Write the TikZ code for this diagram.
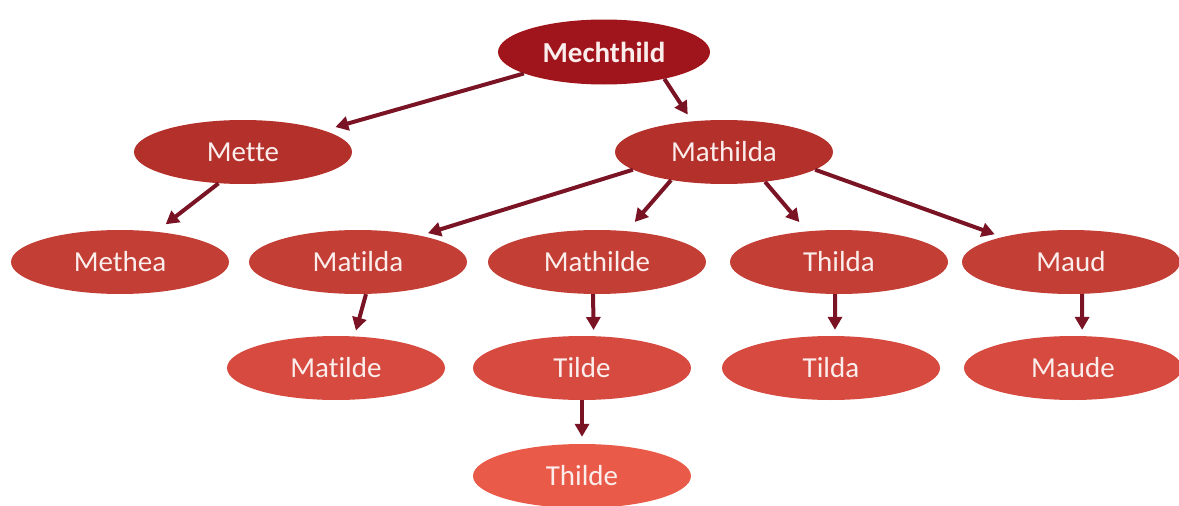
\documentclass[tikz,border=0pt]{standalone}
\usepackage{fontspec}
\setmainfont{Carlito}[Ligatures=NoCommon]
\usetikzlibrary{shapes.geometric,arrows.meta}
\definecolor{cA}{HTML}{A0141C}
\definecolor{cB}{HTML}{B3302B}
\definecolor{cC}{HTML}{C33E35}
\definecolor{cD}{HTML}{D64A3F}
\definecolor{cE}{HTML}{EA5A48}
\definecolor{arr}{HTML}{7A1424}
\definecolor{txt}{HTML}{FBEDEB}
\begin{document}
\begin{tikzpicture}[x=1pt,y=-1pt,
  personbox/.style={ellipse,inner sep=0pt,minimum width=218pt,minimum height=64pt,
    text=txt,font=\fontsize{29}{31}\selectfont},
  lvA/.style={personbox,fill=cA,minimum width=212pt,minimum height=65pt,font=\fontsize{29}{31}\selectfont\bfseries},
  lvB/.style={personbox,fill=cB},
  lvC/.style={personbox,fill=cC},
  lvD/.style={personbox,fill=cD},
  lvE/.style={personbox,fill=cE},
  link/.style={draw=arr,line width=4pt,-{Triangle[length=13pt,width=14pt]}}]
\useasboundingbox (0,0) rectangle (1179,506);
\node[lvA] (mech) at (604,52) {Mechthild};
\node[lvB] (mette) at (243,152) {Mette};
\node[lvB] (mathilda) at (724,152) {Mathilda};
\node[lvC] (methea) at (120,262) {Methea};
\node[lvC] (matilda) at (358,262) {Matilda};
\node[lvC] (mathilde) at (597,262) {Mathilde};
\node[lvC] (thilda) at (839,262) {Thilda};
\node[lvC] (maud) at (1071,262) {Maud};
\node[lvD] (matilde) at (336,368) {Matilde};
\node[lvD] (tilde) at (582,368) {Tilde};
\node[lvD] (tilda) at (831,368) {Tilda};
\node[lvD] (maude) at (1073,368) {Maude};
\node[lvE] (thilde) at (582,476) {Thilde};
\draw[link,shorten >=12pt] (mech.195) -- (mette.15);
\draw[link,shorten >=8pt] (mech.-24) -- (mathilda.136);
\draw[link,shorten >=12pt] (mette.232) -- (methea.40);
\draw[link,shorten >=8pt] (mathilda.191) -- (matilda.23);
\draw[link,shorten >=12pt] (mathilda.208) -- (mathilde.46);
\draw[link,shorten >=12pt] (mathilda.-36) -- (thilda.136);
\draw[link,shorten >=8pt] (mathilda.-11) -- (maud.160);
\draw[link,shorten >=6pt] (matilda.-76) -- (matilde.60);
\draw[link,shorten >=6pt] (mathilde.-97) -- (tilde.70);
\draw[link,shorten >=7pt] (tilde.south) -- (thilde.north);
\draw[link,shorten >=6pt] (thilda.-97) -- (tilda.83);
\draw[link,shorten >=6pt] (maud.-71) -- (maude.74);
\end{tikzpicture}
\end{document}
